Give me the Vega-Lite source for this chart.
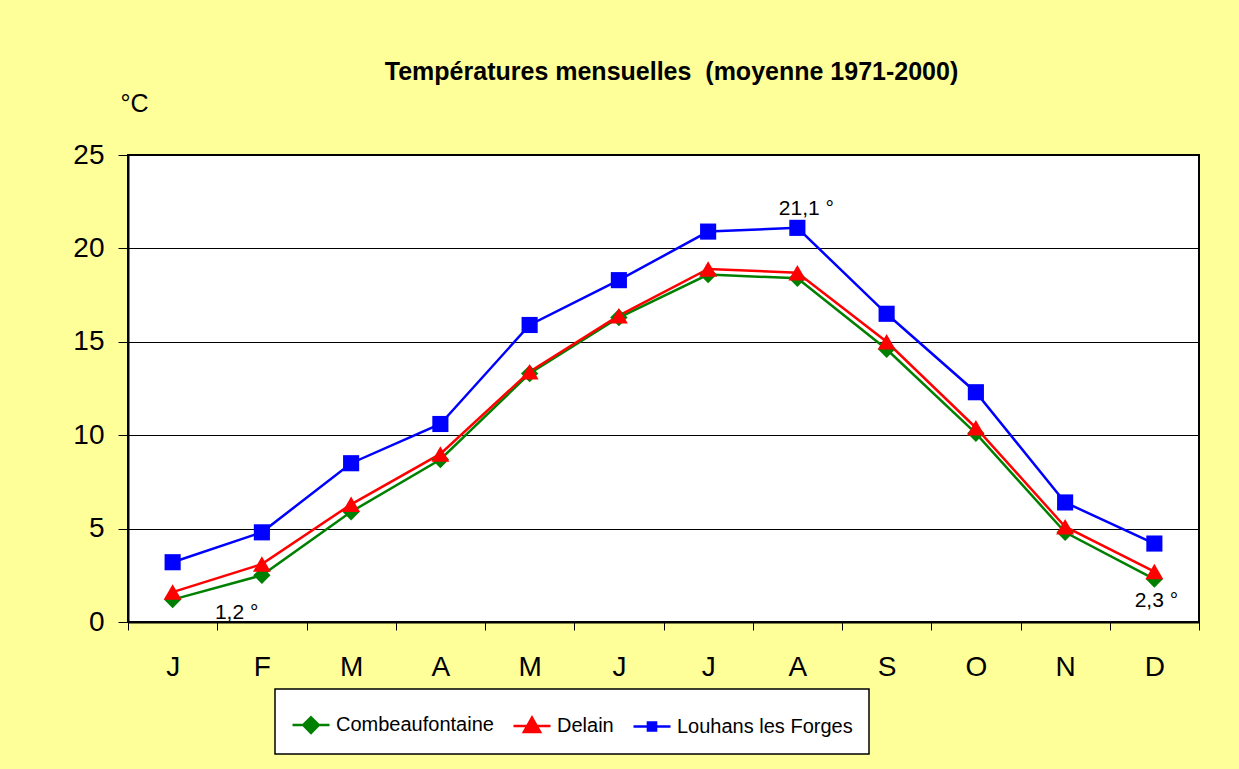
{
  "$schema": "https://vega.github.io/schema/vega-lite/v6.json",
  "width": 1071,
  "height": 467,
  "autosize": "none",
  "padding": {"left": 128, "top": 155, "right": 40, "bottom": 147},
  "background": "#FFFF99",
  "config": {
    "view": {"fill": "white", "stroke": "black", "strokeWidth": 2},
    "font": "Liberation Sans"
  },
  "title": {
    "text": "Températures mensuelles \u00a0(moyenne 1971-2000)",
    "font": "Liberation Sans",
    "fontSize": 25,
    "fontWeight": "bold",
    "anchor": "middle",
    "offset": 6,
    "dx": 8,
    "color": "black"
  },
  "datasets": {
    "temps": [
      {"mois": "Jan", "station": "Combeaufontaine", "temp": 1.2},
      {"mois": "Fév", "station": "Combeaufontaine", "temp": 2.5},
      {"mois": "Mar", "station": "Combeaufontaine", "temp": 5.9},
      {"mois": "Avr", "station": "Combeaufontaine", "temp": 8.7},
      {"mois": "Mai", "station": "Combeaufontaine", "temp": 13.3},
      {"mois": "Juin", "station": "Combeaufontaine", "temp": 16.3},
      {"mois": "Juil", "station": "Combeaufontaine", "temp": 18.6},
      {"mois": "Aoû", "station": "Combeaufontaine", "temp": 18.4},
      {"mois": "Sep", "station": "Combeaufontaine", "temp": 14.6},
      {"mois": "Oct", "station": "Combeaufontaine", "temp": 10.1},
      {"mois": "Nov", "station": "Combeaufontaine", "temp": 4.8},
      {"mois": "Déc", "station": "Combeaufontaine", "temp": 2.3},
      {"mois": "Jan", "station": "Delain", "temp": 1.6},
      {"mois": "Fév", "station": "Delain", "temp": 3.1},
      {"mois": "Mar", "station": "Delain", "temp": 6.3},
      {"mois": "Avr", "station": "Delain", "temp": 9.0},
      {"mois": "Mai", "station": "Delain", "temp": 13.4},
      {"mois": "Juin", "station": "Delain", "temp": 16.4},
      {"mois": "Juil", "station": "Delain", "temp": 18.9},
      {"mois": "Aoû", "station": "Delain", "temp": 18.7},
      {"mois": "Sep", "station": "Delain", "temp": 15.0},
      {"mois": "Oct", "station": "Delain", "temp": 10.4},
      {"mois": "Nov", "station": "Delain", "temp": 5.1},
      {"mois": "Déc", "station": "Delain", "temp": 2.7},
      {"mois": "Jan", "station": "Louhans les Forges", "temp": 3.2},
      {"mois": "Fév", "station": "Louhans les Forges", "temp": 4.8},
      {"mois": "Mar", "station": "Louhans les Forges", "temp": 8.5},
      {"mois": "Avr", "station": "Louhans les Forges", "temp": 10.6},
      {"mois": "Mai", "station": "Louhans les Forges", "temp": 15.9},
      {"mois": "Juin", "station": "Louhans les Forges", "temp": 18.3},
      {"mois": "Juil", "station": "Louhans les Forges", "temp": 20.9},
      {"mois": "Aoû", "station": "Louhans les Forges", "temp": 21.1},
      {"mois": "Sep", "station": "Louhans les Forges", "temp": 16.5},
      {"mois": "Oct", "station": "Louhans les Forges", "temp": 12.3},
      {"mois": "Nov", "station": "Louhans les Forges", "temp": 6.4},
      {"mois": "Déc", "station": "Louhans les Forges", "temp": 4.2}
    ],
    "notes": [
      {"mois": "Jan", "temp": 1.2, "label": "1,2 °"},
      {"mois": "Aoû", "temp": 21.1, "label": "21,1 °"},
      {"mois": "Déc", "temp": 2.3, "label": "2,3 °"}
    ]
  },
  "data": {"name": "temps"},
  "encoding": {
    "x": {
      "field": "mois",
      "type": "nominal",
      "sort": ["Jan", "Fév", "Mar", "Avr", "Mai", "Juin", "Juil", "Aoû", "Sep", "Oct", "Nov", "Déc"],
      "scale": {"paddingInner": 0, "paddingOuter": 0},
      "axis": {
        "title": null,
        "labelAngle": 0,
        "labelExpr": "substring(datum.label, 0, 1)",
        "tickBand": "extent",
        "labelFontSize": 28,
        "labelColor": "black",
        "labelPadding": 23,
        "tickSize": 8,
        "tickColor": "black",
        "tickWidth": 1,
        "domainColor": "black",
        "domainWidth": 2,
        "grid": false
      }
    },
    "y": {
      "field": "temp",
      "type": "quantitative",
      "scale": {"domain": [0, 25], "nice": false, "zero": true},
      "axis": {
        "values": [0, 5, 10, 15, 20, 25],
        "title": "°C",
        "titleAngle": 0,
        "titleAlign": "left",
        "titleBaseline": "alphabetic",
        "titleX": -8,
        "titleY": -44,
        "titleFontSize": 25,
        "titleFontWeight": "normal",
        "titleColor": "black",
        "labelFontSize": 28,
        "labelColor": "black",
        "labelPadding": 14,
        "tickSize": 10,
        "tickColor": "black",
        "domainColor": "black",
        "domainWidth": 2,
        "grid": true,
        "gridColor": "black",
        "gridWidth": 1,
        "gridOpacity": 1
      }
    }
  },
  "layer": [
    {
      "mark": {"type": "line", "strokeWidth": 2.5},
      "encoding": {
        "color": {
          "field": "station",
          "type": "nominal",
          "scale": {
            "domain": ["Combeaufontaine", "Delain", "Louhans les Forges"],
            "range": ["#008000", "#FF0000", "#0000FF"]
          },
          "legend": {
            "title": null,
            "orient": "none",
            "legendX": 147,
            "legendY": 534,
            "direction": "horizontal",
            "fillColor": "white",
            "strokeColor": "black",
            "padding": 16,
            "labelFont": "Liberation Sans",
            "labelFontSize": 20,
            "labelLimit": 400,
            "labelColor": "black",
            "labelOffset": 5,
            "columnPadding": 14,
            "symbolSize": 1369,
            "symbolStrokeWidth": 2.5,
            "symbolType": "M-1,0H1",
            "encode": {
              "legend": {
                "update": {"strokeWidth": {"value": 1.5}}
              },
              "symbols": {
                "update": {
                  "shape": {"signal": "datum.value === 'Combeaufontaine' ? 'M-1,0H1M0,-0.42L0.42,0L0,0.42L-0.42,0Z' : datum.value === 'Delain' ? 'M-1,0H1M0,-0.46L0.44,0.32L-0.44,0.32Z' : 'M-1,0H1M-0.22,-0.22H0.22V0.22H-0.22Z'"},
                  "fill": {"scale": "color", "field": "value"},
                  "stroke": {"scale": "color", "field": "value"},
                  "strokeWidth": {"value": 2.5},
                  "opacity": {"value": 1},
                  "fillOpacity": {"value": 1}
                }
              }
            }
          }
        }
      }
    },
    {
      "transform": [{"filter": "datum.station === 'Combeaufontaine'"}],
      "mark": {"type": "point", "filled": true, "opacity": 1, "shape": "diamond", "size": 300},
      "encoding": {"color": {"field": "station", "type": "nominal", "legend": null}}
    },
    {
      "transform": [{"filter": "datum.station === 'Delain'"}],
      "mark": {"type": "point", "filled": true, "opacity": 1, "shape": "triangle-up", "size": 320},
      "encoding": {"color": {"field": "station", "type": "nominal", "legend": null}}
    },
    {
      "transform": [{"filter": "datum.station === 'Louhans les Forges'"}],
      "mark": {"type": "point", "filled": true, "opacity": 1, "shape": "square", "size": 260},
      "encoding": {"color": {"field": "station", "type": "nominal", "legend": null}}
    },
    {
      "data": {"name": "notes"},
      "transform": [{"filter": "datum.label === '1,2 °'"}],
      "mark": {"type": "text", "fontSize": 21, "color": "black", "dx": 64, "dy": 13, "align": "center", "baseline": "middle"},
      "encoding": {"text": {"field": "label"}}
    },
    {
      "data": {"name": "notes"},
      "transform": [{"filter": "datum.label === '21,1 °'"}],
      "mark": {"type": "text", "fontSize": 21, "color": "black", "dx": 9, "dy": -19, "align": "center", "baseline": "middle"},
      "encoding": {"text": {"field": "label"}}
    },
    {
      "data": {"name": "notes"},
      "transform": [{"filter": "datum.label === '2,3 °'"}],
      "mark": {"type": "text", "fontSize": 21, "color": "black", "dx": 2, "dy": 22, "align": "center", "baseline": "middle"},
      "encoding": {"text": {"field": "label"}}
    }
  ]
}
